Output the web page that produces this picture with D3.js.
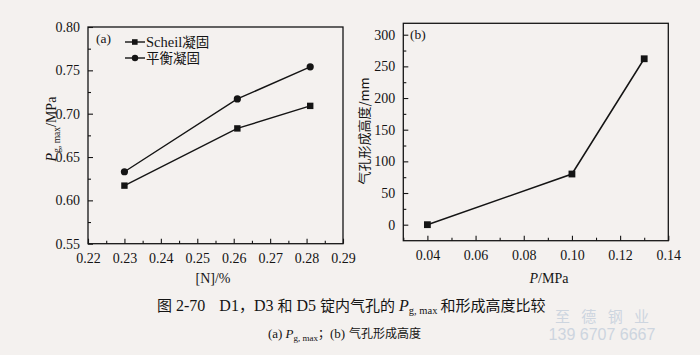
<!DOCTYPE html>
<html><head><meta charset="utf-8">
<script src="https://cdn.jsdelivr.net/npm/d3@7"></script>
<style>
html,body{margin:0;padding:0;background:#f4f1ef;}
svg{display:block;}
</style></head><body>
<svg id="c" width="700" height="355"></svg>
<script>
// Panel (a)
const nContent = [0.23, 0.261, 0.281];
const scheil = [0.617, 0.683, 0.709];
const equil = [0.633, 0.717, 0.754];
const aXTicks = [0.22, 0.23, 0.24, 0.25, 0.26, 0.27, 0.28, 0.29];
const aYTicks = [0.55, 0.60, 0.65, 0.70, 0.75, 0.80];
const legendLabels = ["Scheil凝固", "平衡凝固"];
// Panel (b)
const pressure = [0.04, 0.10, 0.13];
const height = [0, 80, 262];
const bXTicks = [0.04, 0.06, 0.08, 0.10, 0.12, 0.14];
const bYTicks = [0, 50, 100, 150, 200, 250, 300];

const svg = d3.select("#c");
const serif = "Liberation Serif, Times New Roman, serif";
const cjk = "Noto Sans CJK SC, sans-serif";
const ink = "#141414";

function frame(g, x, y) {
  const [x0, x1] = x.range(), [y1, y0] = y.range();
  g.append("rect").attr("x", x0).attr("y", y0).attr("width", x1 - x0).attr("height", y1 - y0)
    .attr("fill", "none").attr("stroke", ink).attr("stroke-width", 1.3);
}
function axes(g, x, y, xt, yt, xMinor, yMinor, xfmt, yfmt) {
  const [x0, x1] = x.range(), [y1, y0] = y.range();
  const xa = g.append("g").attr("transform", `translate(0,${y1})`)
    .call(d3.axisBottom(x).tickValues(xMinor).tickSize(-3).tickFormat(""));
  xa.select(".domain").remove();
  const xb = g.append("g").attr("transform", `translate(0,${y1})`)
    .call(d3.axisBottom(x).tickValues(xt).tickSize(-5).tickPadding(9).tickFormat(xfmt));
  xb.select(".domain").remove();
  const ya = g.append("g").attr("transform", `translate(${x0},0)`)
    .call(d3.axisLeft(y).tickValues(yMinor).tickSize(-3).tickFormat(""));
  ya.select(".domain").remove();
  const yb = g.append("g").attr("transform", `translate(${x0},0)`)
    .call(d3.axisLeft(y).tickValues(yt).tickSize(-5).tickPadding(8).tickFormat(yfmt));
  yb.select(".domain").remove();
  g.selectAll("g").attr("font-family", serif).attr("font-size", 14);
  g.selectAll(".tick line").attr("stroke", ink).attr("stroke-width", 1.1);
  g.selectAll(".tick text").attr("fill", ink).attr("font-family", serif).style("font-family", serif).style("font-size", "14px");
}

// ---- Panel a
const xa = d3.scaleLinear().domain([0.22, 0.29]).range([88, 343]);
const ya = d3.scaleLinear().domain([0.55, 0.80]).range([243.7, 27]);
const ga = svg.append("g");
const aXMinor = d3.range(0.225, 0.29, 0.01);
const aYMinor = d3.range(0.575, 0.80, 0.05);
axes(ga, xa, ya, aXTicks, aYTicks, aXMinor, aYMinor, d3.format(".2f"), d3.format(".2f"));
frame(ga, xa, ya);
const lineA = d3.line().x((d, i) => xa(nContent[i])).y(d => ya(d));
ga.append("path").datum(scheil).attr("d", lineA).attr("fill", "none").attr("stroke", ink).attr("stroke-width", 1.4);
ga.append("path").datum(equil).attr("d", lineA).attr("fill", "none").attr("stroke", ink).attr("stroke-width", 1.4);
ga.selectAll("rect.m").data(scheil).join("rect").attr("class", "m")
  .attr("x", (d, i) => xa(nContent[i]) - 3.2).attr("y", d => ya(d) - 3.2)
  .attr("width", 6.4).attr("height", 6.4).attr("fill", ink);
ga.selectAll("circle.m").data(equil).join("circle").attr("class", "m")
  .attr("cx", (d, i) => xa(nContent[i])).attr("cy", d => ya(d)).attr("r", 3.6).attr("fill", ink);
ga.append("text").attr("x", 96).attr("y", 43).text("(a)")
  .style("font-family", serif).style("font-size", "13.5px").attr("fill", ink);
// legend
legendLabels.forEach((t, i) => {
  const ly = 42 + i * 16;
  ga.append("line").attr("x1", 125).attr("x2", 145).attr("y1", ly).attr("y2", ly).attr("stroke", ink).attr("stroke-width", 1.4);
  if (i === 0) ga.append("rect").attr("x", 132).attr("y", ly - 2.8).attr("width", 5.6).attr("height", 5.6).attr("fill", ink);
  else ga.append("circle").attr("cx", 135).attr("cy", ly).attr("r", 3.2).attr("fill", ink);
  const tx = ga.append("text").attr("x", 146).attr("y", ly + 4.5).attr("fill", ink).style("font-size", "13.5px");
  if (i === 0) {
    tx.append("tspan").text("Scheil").style("font-family", serif).style("font-size", "14.5px");
    tx.append("tspan").text("凝固").style("font-family", cjk);
  } else {
    tx.append("tspan").text(t).style("font-family", cjk);
  }
});
// axis labels a
const yla = ga.append("text").attr("transform", "translate(56,129) rotate(-90)").attr("text-anchor", "middle")
  .attr("fill", ink).style("font-family", serif).style("font-size", "14px");
yla.append("tspan").text("P").style("font-style", "italic");
yla.append("tspan").text("g, max").style("font-size", "9.5px").attr("dy", 4);
yla.append("tspan").text("/MPa").attr("dy", -4);
ga.append("text").attr("x", 213).attr("y", 283).attr("text-anchor", "middle").text("[N]/%")
  .attr("fill", ink).style("font-family", serif).style("font-size", "14px");

// ---- Panel b
const xb = d3.scaleLinear().domain([0.03, 0.14]).range([403.3, 668.3]);
const yb = d3.scaleLinear().domain([-25.3, 318]).range([240.7, 23.3]);
const gb = svg.append("g");
const bXMinor = d3.range(0.03, 0.14, 0.02);
const bYMinor = d3.range(25, 318, 50);
axes(gb, xb, yb, bXTicks, bYTicks, bXMinor, bYMinor, d3.format(".2f"), d3.format("d"));
frame(gb, xb, yb);
const lineB = d3.line().x((d, i) => xb(pressure[i])).y(d => yb(d));
gb.append("path").datum(height).attr("d", lineB).attr("fill", "none").attr("stroke", ink).attr("stroke-width", 1.5);
gb.selectAll("rect.m").data(height).join("rect").attr("class", "m")
  .attr("x", (d, i) => xb(pressure[i]) - 3.4).attr("y", d => yb(d) - 3.4)
  .attr("width", 6.8).attr("height", 6.8).attr("fill", ink);
gb.append("text").attr("x", 410).attr("y", 39).text("(b)")
  .style("font-family", serif).style("font-size", "13.5px").attr("fill", ink);
gb.append("text").attr("transform", "translate(369,131) rotate(-90)").attr("text-anchor", "middle")
  .attr("fill", ink).style("font-size", "13px").style("font-family", cjk)
  .text("气孔形成高度/mm");
const xlb = gb.append("text").attr("x", 549).attr("y", 283).attr("text-anchor", "middle")
  .attr("fill", ink).style("font-family", serif).style("font-size", "14px");
xlb.append("tspan").text("P").style("font-style", "italic");
xlb.append("tspan").text("/MPa");

// ---- Captions
const cap = svg.append("text").attr("x", 157).attr("y", 311).attr("fill", ink).style("font-size", "15px");
cap.append("tspan").text("图").style("font-family", cjk);
cap.append("tspan").text("2-70").attr("dx", 4).style("font-family", serif).style("font-size", "16px");
cap.append("tspan").text("D1").attr("dx", 14).style("font-family", serif).style("font-size", "16px");
cap.append("tspan").text("，").style("font-family", cjk);
cap.append("tspan").text("D3").style("font-family", serif).style("font-size", "16px");
cap.append("tspan").text("和").attr("dx", 4).style("font-family", cjk);
cap.append("tspan").text("D5").attr("dx", 4).style("font-family", serif).style("font-size", "16px");
cap.append("tspan").text("锭内气孔的").attr("dx", 4).style("font-family", cjk);
cap.append("tspan").text("P").attr("dx", 4).style("font-family", serif).style("font-style", "italic").style("font-size", "16px");
cap.append("tspan").text("g, max").style("font-family", serif).style("font-size", "10.5px").attr("dy", 3);
cap.append("tspan").text("和形成高度比较").attr("dx", 3).style("font-family", cjk).attr("dy", -3);

const sub = svg.append("text").attr("x", 268).attr("y", 338).attr("fill", ink).style("font-size", "12px");
sub.append("tspan").text("(a)").style("font-family", serif).style("font-size", "13px");
sub.append("tspan").text("P").attr("dx", 3).style("font-family", serif).style("font-style", "italic").style("font-size", "13px");
sub.append("tspan").text("g, max").style("font-family", serif).style("font-size", "9px").attr("dy", 3);
sub.append("tspan").text("；").style("font-family", cjk).attr("dy", -3);
sub.append("tspan").text("(b)").style("font-family", serif).style("font-size", "13px");
sub.append("tspan").text("气孔形成高度").attr("dx", 4).style("font-family", cjk);

// watermark
svg.append("text").attr("x", 604).attr("y", 322).attr("text-anchor", "middle").text("至 德 钢 业")
  .attr("fill", "#cdd5df").style("font-family", cjk).style("font-size", "15px").style("letter-spacing", "4px");
svg.append("text").attr("x", 602).attr("y", 340).attr("text-anchor", "middle").text("139 6707 6667")
  .attr("fill", "#cdd5df").style("font-family", "Liberation Sans, sans-serif").style("font-size", "16px");
</script>
</body></html>
